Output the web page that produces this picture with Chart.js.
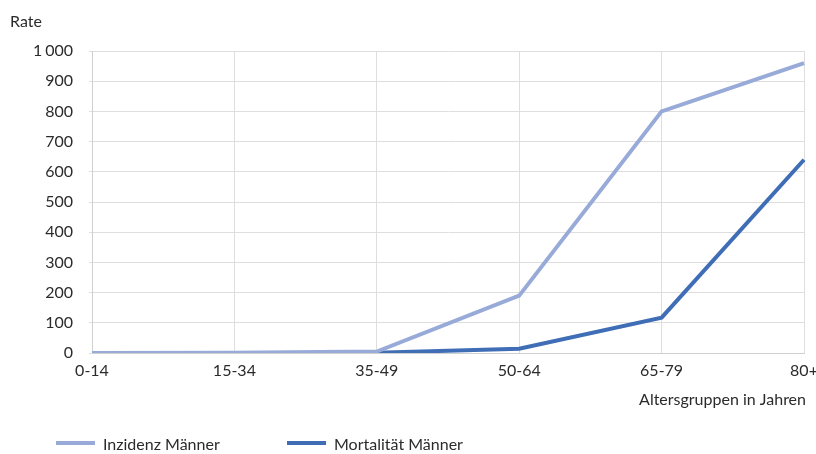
<!DOCTYPE html>
<html lang="de">
<head>
<meta charset="utf-8">
<title>Inzidenz und Mortalität Männer</title>
<script src="https://cdn.jsdelivr.net/npm/chart.js@4/dist/chart.umd.min.js"></script>
<style>
  html, body { margin: 0; padding: 0; background: #fff; }
  #wrap { position: relative; width: 816px; height: 454px; }
</style>
</head>
<body>
<div id="wrap"><canvas id="chart" width="816" height="454"></canvas></div>
<script>
// Altersgruppen und Raten je 100 000
const ageGroups = ['0-14', '15-34', '35-49', '50-64', '65-79', '80+'];
const incidenceMen = [0, 1, 5, 190, 800, 960];
const mortalityMen = [0, 0, 1, 14, 117, 640];
const yTicks = [0, 100, 200, 300, 400, 500, 600, 700, 800, 900, 1000];

const FONT = 'Lato, "Noto Sans", sans-serif';
const TEXT = '#2b2b2b';
const LIGHT = '#97aad8';
const DARK = '#3f6db6';

const seriesLabels = ['Inzidenz Männer', 'Mortalität Männer'];

// Achsentitel und Legende direkt auf die Leinwand zeichnen
const decorations = {
  id: 'decorations',
  afterDraw(chart) {
    const ctx = chart.ctx;
    ctx.save();
    ctx.fillStyle = TEXT;
    ctx.font = '16px ' + FONT;
    ctx.textBaseline = 'middle';
    ctx.textAlign = 'left';
    ctx.fillText('Rate', 10, 22);
    ctx.textAlign = 'right';
    ctx.fillText('Altersgruppen in Jahren', 806, 400);

    const items = [
      { x: 56, color: LIGHT, label: seriesLabels[0] },
      { x: 287, color: DARK, label: seriesLabels[1] }
    ];
    ctx.textAlign = 'left';
    items.forEach(it => {
      ctx.strokeStyle = it.color;
      ctx.lineWidth = 4;
      ctx.beginPath();
      ctx.moveTo(it.x, 443);
      ctx.lineTo(it.x + 39, 443);
      ctx.stroke();
      ctx.fillStyle = TEXT;
      ctx.fillText(it.label, it.x + 47, 445);
    });
    ctx.restore();
  }
};

new Chart(document.getElementById('chart'), {
  type: 'line',
  data: {
    labels: ageGroups,
    datasets: [
      {
        label: seriesLabels[0],
        data: incidenceMen,
        borderColor: LIGHT,
        backgroundColor: LIGHT,
        borderWidth: 4,
        pointRadius: 0,
        tension: 0
      },
      {
        label: seriesLabels[1],
        data: mortalityMen,
        borderColor: DARK,
        backgroundColor: DARK,
        borderWidth: 4,
        pointRadius: 0,
        tension: 0
      }
    ]
  },
  options: {
    responsive: false,
    animation: false,
    layout: { padding: { left: 0, right: 12, top: 51, bottom: 0 } },
    plugins: {
      legend: { display: false },
      tooltip: { enabled: false }
    },
    scales: {
      x: {
        offset: false,
        grid: { color: '#dedede', lineWidth: 1, tickLength: 0, drawTicks: false },
        border: { color: '#d0d0d0' },
        ticks: {
          color: TEXT,
          font: { family: FONT, size: 16 },
          padding: 8,
          maxRotation: 0,
          autoSkip: false
        },
        afterFit(scale) {
          scale.height = 101;
          scale.paddingLeft = 0;
          scale.paddingRight = 0;
        }
      },
      y: {
        min: 0,
        max: 1000,
        afterBuildTicks(scale) { scale.ticks = yTicks.map(v => ({ value: v })); },
        grid: { color: '#dedede', lineWidth: 1, tickLength: 3 },
        border: { color: '#d0d0d0' },
        ticks: {
          color: TEXT,
          font: { family: FONT, size: 16 },
          padding: 16,
          callback: v => String(v).replace(/\B(?=(\d{3})+(?!\d))/g, '\u2009\u200a')
        },
        afterFit(scale) { scale.width = 92; }
      }
    }
  },
  plugins: [decorations]
});
</script>
</body>
</html>
